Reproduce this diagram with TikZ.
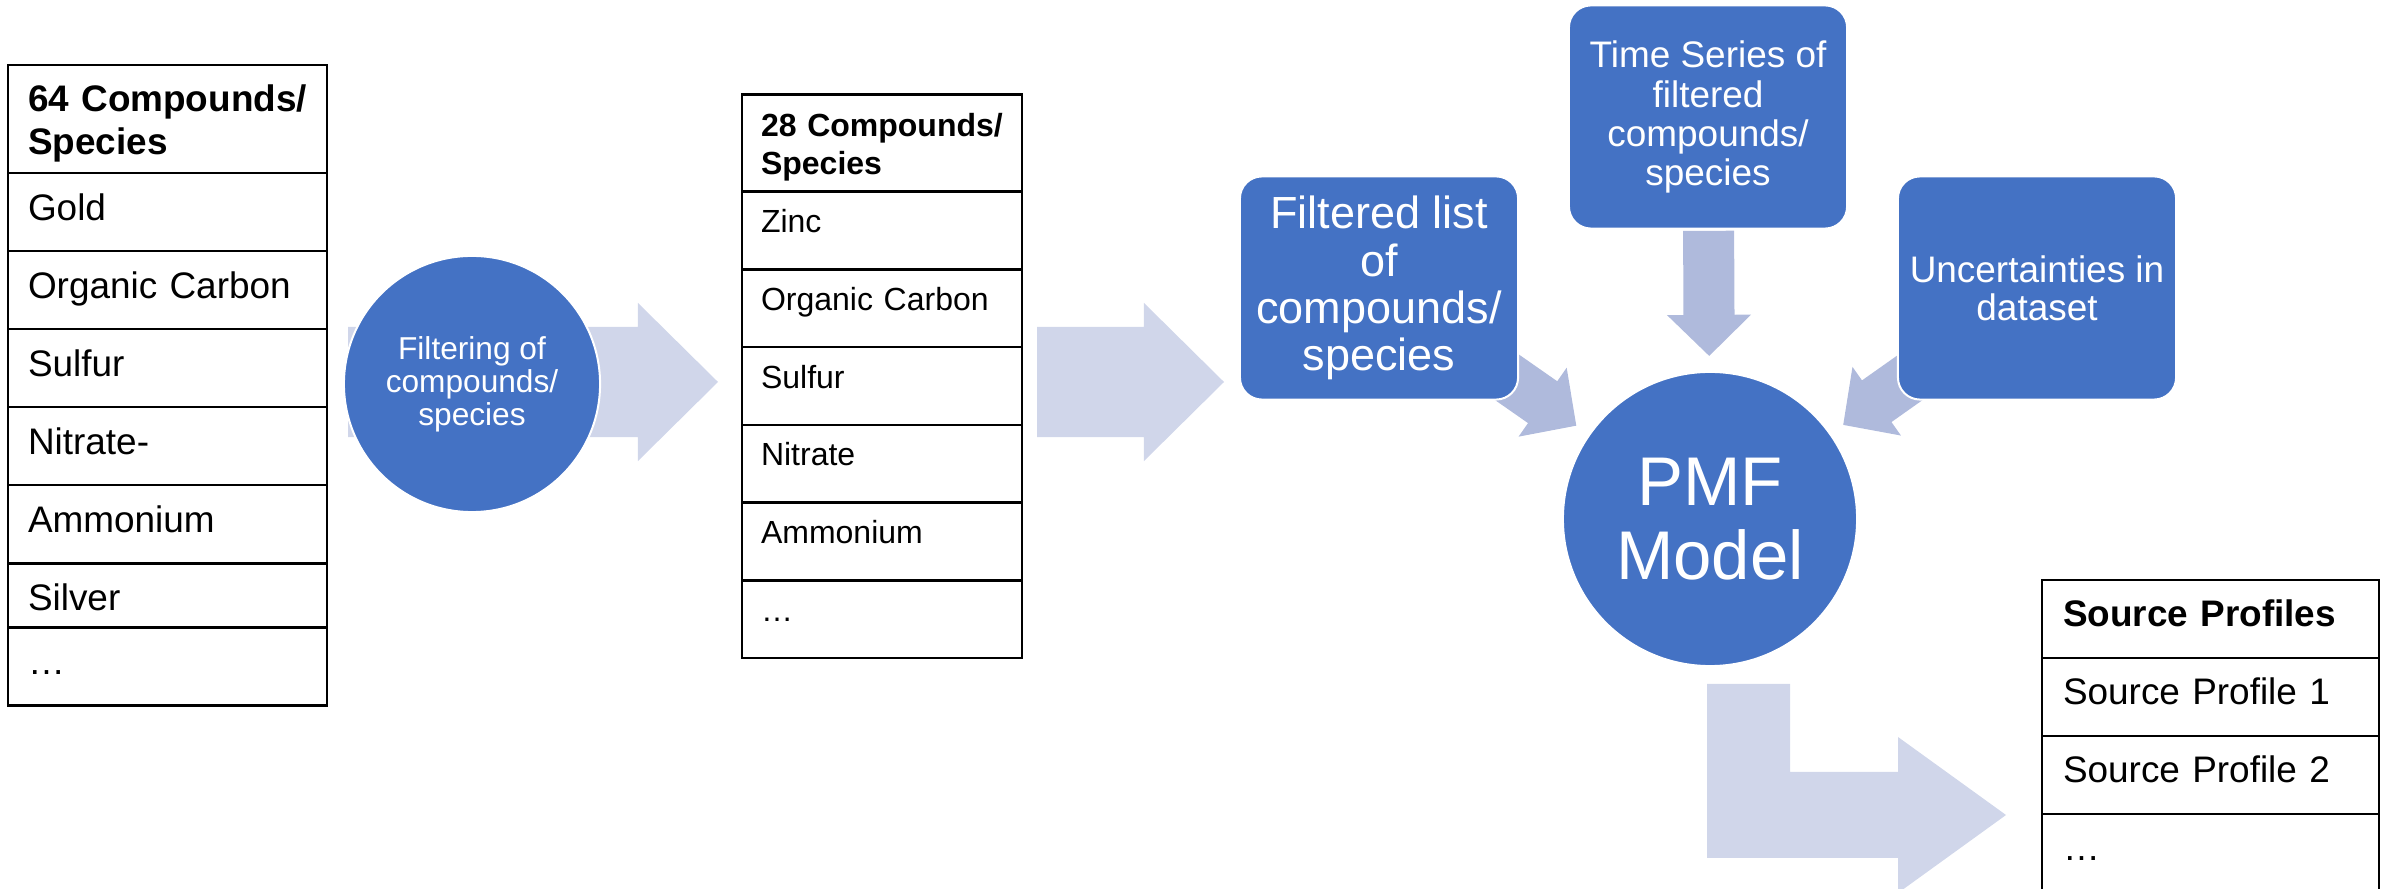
\documentclass[tikz,border=0pt]{standalone}
\usepackage{fontspec}
\setmainfont{Liberation Sans}
\usetikzlibrary{calc,positioning,backgrounds}
\definecolor{pmfblue}{HTML}{4472C4}
\definecolor{arrowpale}{HTML}{D0D6EA}
\definecolor{arrowmid}{HTML}{AFBADC}
% block arrow: start, tip, half shaft, half head, head length, colour
\newcommand{\blkarrow}[6]{%
  \coordinate (ba-h) at ($(#2)!#5!(#1)$);
  \fill[#6] ($(#1)!#3!90:(#2)$) -- ($(ba-h)!#3!90:(#2)$) -- ($(ba-h)!#4!90:(#2)$) -- (#2)
    -- ($(ba-h)!#4!-90:(#2)$) -- ($(ba-h)!#3!-90:(#2)$) -- ($(#1)!#3!-90:(#2)$) -- cycle;}

\begin{document}
\begin{tikzpicture}[x=0.01cm,y=-0.01cm,
  lcell/.style={draw=black, line width=0.025cm, fill=white, inner xsep=0.2cm, inner ysep=0pt, outer sep=0pt,
    text width=2.79cm, align=left, font=\fontsize{10.5}{12.5}\selectfont, text height=0.47cm, text depth=0.31cm},
  mcell/.style={lcell, inner xsep=0.19cm, text width=2.42cm, font=\fontsize{9.1}{10.8}\selectfont,
    text height=0.41cm, text depth=0.367cm},
  scell/.style={lcell, inner xsep=0.21cm, text width=2.95cm, text height=0.46cm, text depth=0.32cm},
  bluebox/.style={rounded corners=0.22cm, fill=pmfblue, draw=white, line width=0.02cm, text=white,
    minimum width=2.78cm, minimum height=2.23cm, align=center, inner sep=0pt},
  bluedisc/.style={circle, fill=pmfblue, draw=white, line width=0.02cm, text=white, align=center, inner sep=0pt}]
\useasboundingbox (0,0) rectangle (2394,889);
\clip (0,0) rectangle (2394,889);

% 64 species
\node[lcell, anchor=north west, text height=0.46cm, text depth=0.62cm] (a0) at (8,65) {\textbf{64 Compounds/}\\\textbf{Species}};
\node[lcell, below=0pt of a0] (a1) {Gold};
\node[lcell, below=0pt of a1] (a2) {Organic Carbon};
\node[lcell, below=0pt of a2] (a3) {Sulfur};
\node[lcell, below=0pt of a3] (a4) {Nitrate-};
\node[lcell, below=0pt of a4] (a5) {Ammonium};
\node[lcell, below=0pt of a5, text depth=0.17cm] (a6) {Silver};
\node[lcell, below=0pt of a6] (a7) {…};

% 28 species
\node[mcell, anchor=north west, text height=0.42cm, text depth=0.55cm] (b0) at (742,94.5) {\textbf{28 Compounds/}\\\textbf{Species}};
\node[mcell, below=0pt of b0] (b1) {Zinc};
\node[mcell, below=0pt of b1] (b2) {Organic Carbon};
\node[mcell, below=0pt of b2] (b3) {Sulfur};
\node[mcell, below=0pt of b3] (b4) {Nitrate};
\node[mcell, below=0pt of b4] (b5) {Ammonium};
\node[mcell, below=0pt of b5] (b6) {…};

% source profiles
\node[scell, anchor=north west] (c0) at (2042,580) {\textbf{Source Profiles}};
\node[scell, below=0pt of c0] (c1) {Source Profile 1};
\node[scell, below=0pt of c1] (c2) {Source Profile 2};
\node[scell, below=0pt of c2] (c3) {…};

\node[bluedisc, minimum size=2.56cm, font=\fontsize{9}{9.4}\selectfont] (filt) at (472,384) {Filtering of\\compounds/\\species};
\node[bluebox, font=\fontsize{12.8}{13.4}\selectfont] (flist) at (1379,288) {Filtered list\\of\\compounds/\\species};
\node[bluebox, font=\fontsize{10.5}{11.1}\selectfont] (tser) at (1708,117) {Time Series of\\filtered\\compounds/\\species};
\node[bluebox, font=\fontsize{10.5}{10.8}\selectfont] (unc) at (2037,288) {Uncertainties in\\dataset};
\node[bluedisc, minimum size=2.94cm, font=\fontsize{19.6}{21}\selectfont] (pmf) at (1710,519) {PMF\\Model};

\begin{scope}[on background layer]
\coordinate (s1) at (348,382); \coordinate (e1) at (718,382);
\blkarrow{s1}{e1}{0.55cm}{0.79cm}{0.8cm}{arrowpale}
\coordinate (s2) at (1037,382); \coordinate (e2) at (1224,382);
\blkarrow{s2}{e2}{0.55cm}{0.79cm}{0.8cm}{arrowpale}
\foreach \b in {flist,tser,unc}{
  \coordinate (s) at ($(pmf)!2.88cm!(\b)$);
  \coordinate (e) at ($(pmf)!1.63cm!(\b)$);
  \blkarrow{s}{e}{0.255cm}{0.42cm}{0.41cm}{arrowmid}
}
\fill[arrowpale] (1707,684) -- (1790,684) -- (1790,772) -- (1898,772) -- (1898,737) -- (2006,815)
  -- (1898,893) -- (1898,858) -- (1707,858) -- cycle;
\end{scope}
\end{tikzpicture}
\end{document}
